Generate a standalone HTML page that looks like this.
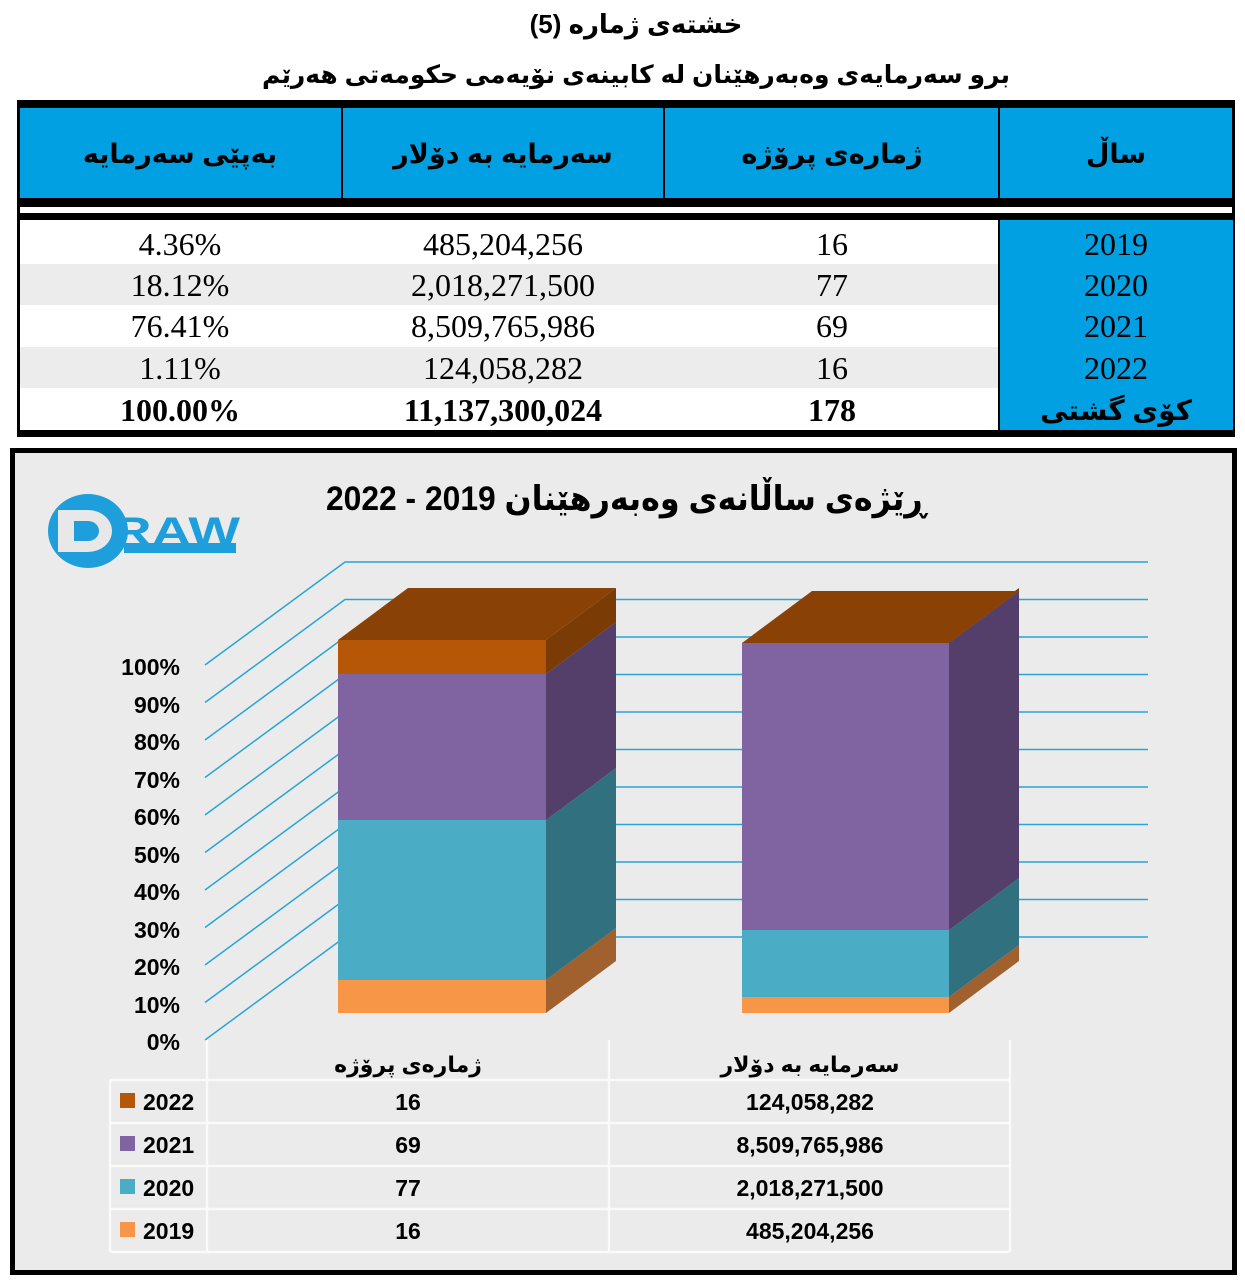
<!DOCTYPE html>
<html><head><meta charset="utf-8"><style>
html,body{margin:0;padding:0;background:#fff;}
svg{display:block}
.ar{font-family:"Liberation Sans","DejaVu Sans",sans-serif;font-weight:bold}
.sr{font-family:"Liberation Serif",serif}
.lb{font-family:"Liberation Sans",sans-serif;font-weight:bold}
</style></head><body>
<svg width="1245" height="1280" viewBox="0 0 1245 1280" xmlns="http://www.w3.org/2000/svg">
<rect width="1245" height="1280" fill="#fff"/>
<text x="636" y="33" text-anchor="middle" class="ar" font-size="26" direction="rtl">خشتەی ژمارە (5)</text>
<text x="636" y="83" text-anchor="middle" class="ar" font-size="25" direction="rtl" textLength="748" lengthAdjust="spacingAndGlyphs">برو سەرمایەی وەبەرهێنان لە کابینەی نۆیەمی حکومەتی هەرێم</text>
<!-- table -->
<rect x="17" y="100" width="1218" height="337" fill="#000"/>
<rect x="20" y="108" width="1212" height="90" fill="#00a0e3"/>
<rect x="20" y="207" width="1212" height="6" fill="#fff"/>
<rect x="20" y="220" width="1212" height="210" fill="#fff"/>
<rect x="20" y="264" width="980" height="41" fill="#ececec"/>
<rect x="20" y="347" width="980" height="41" fill="#ececec"/>
<rect x="999" y="220" width="234" height="210" fill="#00a0e3"/>
<rect x="341" y="108" width="2" height="90" fill="#000"/>
<rect x="663" y="108" width="2" height="90" fill="#000"/>
<rect x="998" y="108" width="2" height="90" fill="#000"/>
<rect x="998" y="220" width="2" height="210" fill="#000"/>
<g class="ar" font-size="27" text-anchor="middle" direction="rtl">
<text x="180" y="163">بەپێی سەرمایە</text>
<text x="503" y="163">سەرمایە بە دۆلار</text>
<text x="832" y="163">ژمارەی پرۆژە</text>
<text x="1116" y="163">ساڵ</text>
</g>
<g class="sr" font-size="32" text-anchor="middle">
<text x="180" y="255">4.36%</text><text x="503" y="255">485,204,256</text><text x="832" y="255">16</text><text x="1116" y="255">2019</text>
<text x="180" y="296">18.12%</text><text x="503" y="296">2,018,271,500</text><text x="832" y="296">77</text><text x="1116" y="296">2020</text>
<text x="180" y="337">76.41%</text><text x="503" y="337">8,509,765,986</text><text x="832" y="337">69</text><text x="1116" y="337">2021</text>
<text x="180" y="379">1.11%</text><text x="503" y="379">124,058,282</text><text x="832" y="379">16</text><text x="1116" y="379">2022</text>
<g font-weight="bold"><text x="180" y="421">100.00%</text><text x="503" y="421">11,137,300,024</text><text x="832" y="421">178</text></g>
</g>
<text x="1116" y="420" text-anchor="middle" class="ar" font-size="28" direction="rtl">کۆی گشتی</text>
<!-- chart frame -->
<rect x="12.5" y="450.5" width="1222" height="822" fill="#ebebeb" stroke="#000" stroke-width="5"/>
<text x="626" y="510" text-anchor="middle" class="ar" font-size="34" direction="rtl" textLength="600" lengthAdjust="spacingAndGlyphs">ڕێژەی ساڵانەی وەبەرهێنان 2019 - 2022</text>
<!-- logo -->
<ellipse cx="88" cy="531" rx="40" ry="37" fill="#1e9fdc"/>
<path d="M58 510 h30 a24 21 0 0 1 0 42 h-30z" fill="#e8e8e8"/>
<path d="M74 521 h14 a11 10 0 0 1 0 20 h-14z" fill="#1e9fdc"/>
<text x="112" y="545" class="lb" font-size="40" fill="#1e9fdc" textLength="128" lengthAdjust="spacingAndGlyphs">RAW</text>
<rect x="124" y="543" width="112" height="10" fill="#1e9fdc"/>
<!-- gridlines -->
<g stroke="#28a5d6" stroke-width="1.5" fill="none">
<polyline points="205,1040 345,937 1148,937"/>
<polyline points="205,1002.5 345,899.5 1148,899.5"/>
<polyline points="205,965 345,862 1148,862"/>
<polyline points="205,927.5 345,824.5 1148,824.5"/>
<polyline points="205,890 345,787 1148,787"/>
<polyline points="205,852.5 345,749.5 1148,749.5"/>
<polyline points="205,815 345,712 1148,712"/>
<polyline points="205,777.5 345,674.5 1148,674.5"/>
<polyline points="205,740 345,637 1148,637"/>
<polyline points="205,702.5 345,599.5 1148,599.5"/>
<polyline points="205,665 345,562 1148,562"/>
</g>
<g class="lb" font-size="23" text-anchor="end">
<text x="180" y="675">100%</text><text x="180" y="713">90%</text><text x="180" y="750">80%</text>
<text x="180" y="788">70%</text><text x="180" y="825">60%</text><text x="180" y="863">50%</text>
<text x="180" y="900">40%</text><text x="180" y="938">30%</text><text x="180" y="975">20%</text>
<text x="180" y="1013">10%</text><text x="180" y="1050">0%</text>
</g>
<!-- bar 1 -->
<rect x="338" y="980" width="208" height="33" fill="#f79646"/>
<rect x="338" y="820" width="208" height="160" fill="#4bacc6"/>
<rect x="338" y="674" width="208" height="146" fill="#8064a2"/>
<rect x="338" y="640" width="208" height="34" fill="#b65708"/>
<polygon points="546,1013 616,961 616,928 546,980" fill="#a0612e"/>
<polygon points="546,980 616,928 616,768 546,820" fill="#31707f"/>
<polygon points="546,820 616,768 616,622 546,674" fill="#533f69"/>
<polygon points="546,674 616,622 616,588 546,640" fill="#7a3b05"/>
<polygon points="338,640 546,640 616,588 408,588" fill="#8a4106"/>
<!-- bar 2 -->
<rect x="742" y="997" width="207" height="16" fill="#f79646"/>
<rect x="742" y="930" width="207" height="67" fill="#4bacc6"/>
<rect x="742" y="643" width="207" height="287" fill="#8064a2"/>
<polygon points="949,1013 1019,961 1019,945 949,997" fill="#a0612e"/>
<polygon points="949,997 1019,945 1019,878 949,930" fill="#31707f"/>
<polygon points="949,930 1019,878 1019,591 949,643" fill="#533f69"/>
<polygon points="949,643 1019,591 1019,588 949,640" fill="#7a3b05"/>
<polygon points="742,643 949,643 1019,591 812,591" fill="#8a4106"/>
<!-- data table -->
<g stroke="#fafafa" stroke-width="2.5" fill="none">
<line x1="207" y1="1040" x2="207" y2="1252"/>
<line x1="609" y1="1040" x2="609" y2="1252"/>
<line x1="1010" y1="1040" x2="1010" y2="1252"/>
<line x1="110" y1="1080" x2="1010" y2="1080"/>
<line x1="110" y1="1123" x2="1010" y2="1123"/>
<line x1="110" y1="1166" x2="1010" y2="1166"/>
<line x1="110" y1="1209" x2="1010" y2="1209"/>
<line x1="110" y1="1252" x2="1010" y2="1252"/>
<line x1="110" y1="1080" x2="110" y2="1252"/>
</g>
<g class="ar" font-size="22" text-anchor="middle" direction="rtl">
<text x="408" y="1072">ژمارەی پرۆژە</text>
<text x="810" y="1072">سەرمایە بە دۆلار</text>
</g>
<rect x="120" y="1093" width="15" height="15" fill="#b65708"/>
<rect x="120" y="1136" width="15" height="15" fill="#8064a2"/>
<rect x="120" y="1179" width="15" height="15" fill="#4bacc6"/>
<rect x="120" y="1222" width="15" height="15" fill="#f79646"/>
<g class="lb" font-size="23">
<text x="143" y="1110">2022</text><text x="143" y="1153">2021</text><text x="143" y="1196">2020</text><text x="143" y="1239">2019</text>
</g>
<g class="lb" font-size="23" text-anchor="middle">
<text x="408" y="1110">16</text><text x="810" y="1110">124,058,282</text>
<text x="408" y="1153">69</text><text x="810" y="1153">8,509,765,986</text>
<text x="408" y="1196">77</text><text x="810" y="1196">2,018,271,500</text>
<text x="408" y="1239">16</text><text x="810" y="1239">485,204,256</text>
</g>
</svg>
</body></html>
